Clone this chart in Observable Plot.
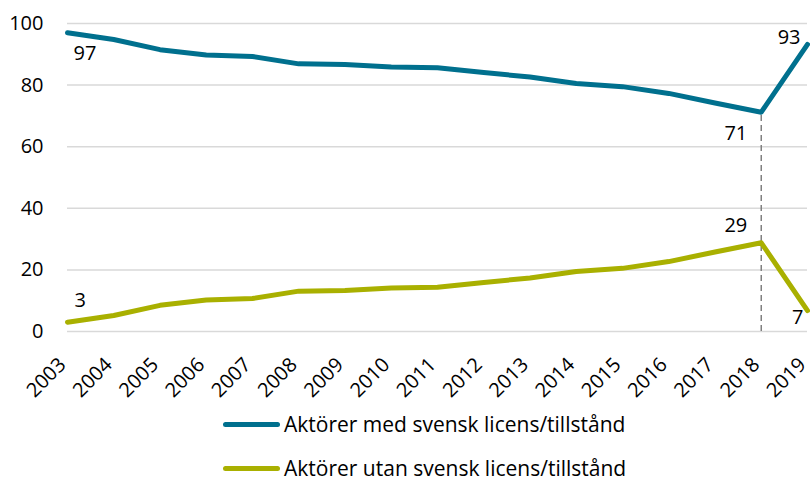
<!DOCTYPE html>
<html>
<head>
<meta charset="utf-8">
<script src="https://cdn.jsdelivr.net/npm/d3@7"></script>
<script src="https://cdn.jsdelivr.net/npm/@observablehq/plot@0.6"></script>
<style>
  body { margin: 0; background: #fff; font-family: "Open Sans", sans-serif; overflow: hidden; }
  #chart { width: 810px; height: 405px; }
  .legend { padding-top: 8px; }
  .row { display: flex; align-items: center; height: 22px; line-height: 22px; margin-left: 223px; font-size: 21px; color: #000; }
  .row + .row { margin-top: 22px; }
  .sw { width: 57px; height: 5px; border-radius: 3px; margin-right: 4px; }
</style>
</head>
<body>
<div id="chart"></div>
<div class="legend">
  <div class="row"><div class="sw" style="background:#00708e"></div><span>Aktörer med svensk licens/tillstånd</span></div>
  <div class="row"><div class="sw" style="background:#a9b000"></div><span>Aktörer utan svensk licens/tillstånd</span></div>
</div>
<script>
const years = [2003, 2004, 2005, 2006, 2007, 2008, 2009, 2010, 2011, 2012, 2013, 2014, 2015, 2016, 2017, 2018, 2019];
const med  = [97, 94.8, 91.5, 89.8, 89.3, 86.9, 86.7, 85.9, 85.6, 84.1, 82.6, 80.5, 79.5, 77.3, 74.2, 71.2, 93.2];
const utan = [3, 5.2, 8.5, 10.2, 10.7, 13.1, 13.3, 14.1, 14.4, 15.9, 17.4, 19.5, 20.5, 22.7, 25.8, 28.8, 6.8];
const yTicks = [0, 20, 40, 60, 80, 100];
const medName = "Aktörer med svensk licens/tillstånd";
const utanName = "Aktörer utan svensk licens/tillstånd";

// labelled points: [year, value, text, anchor, dx, dy]
const labelsMed = [
  [2003, 97, "97", "start", 6, 21],
  [2018, 71, "71", "end", -14, 21],
  [2019, 93, "93", "end", -7, -7]
];
const labelsUtan = [
  [2003, 3, "3", "start", 7, -22],
  [2018, 29, "29", "end", -14, -17],
  [2019, 7, "7", "end", -4, 8]
];

const blue = "#00708e";
const green = "#a9b000";
const idx2018 = years.indexOf(2018);

function textMark(arr) {
  return arr.map(([x, y, t, a, dx, dy]) =>
    Plot.text([{x, y, t}], {x: "x", y: "y", text: "t", textAnchor: a, dx, dy, fontSize: 20, fill: "#000"})
  );
}

const chart = Plot.plot({
  width: 810,
  height: 405,
  marginTop: 23,
  marginBottom: 74,
  marginLeft: 67,
  marginRight: 3,
  style: {fontFamily: "'Open Sans', sans-serif", fontSize: "20px", color: "#000", background: "#fff"},
  x: {domain: [2003, 2019]},
  y: {domain: [0, 100]},
  marks: [
    Plot.gridY(yTicks, {stroke: "#d9d9d9", strokeOpacity: 1, strokeWidth: 1.5}),
    Plot.ruleX([2018], {y1: 0, y2: med[idx2018], stroke: "#808080", strokeWidth: 1.5, strokeDasharray: "6,4"}),
    Plot.line(years, {x: d => d, y: med, stroke: blue, strokeWidth: 5, strokeLinejoin: "round", title: () => medName}),
    Plot.line(years, {x: d => d, y: utan, stroke: green, strokeWidth: 5, strokeLinejoin: "round", title: () => utanName}),
    ...textMark(labelsMed),
    ...textMark(labelsUtan),
    Plot.axisY(yTicks, {tickSize: 0, tickPadding: 24, fontSize: 20, label: null}),
    Plot.axisX(years, {tickSize: 0, tickPadding: 30, dx: -5, tickRotate: -45, tickFormat: d => String(d), fontSize: 20, label: null})
  ]
});
document.getElementById("chart").appendChild(chart);
</script>
</body>
</html>
